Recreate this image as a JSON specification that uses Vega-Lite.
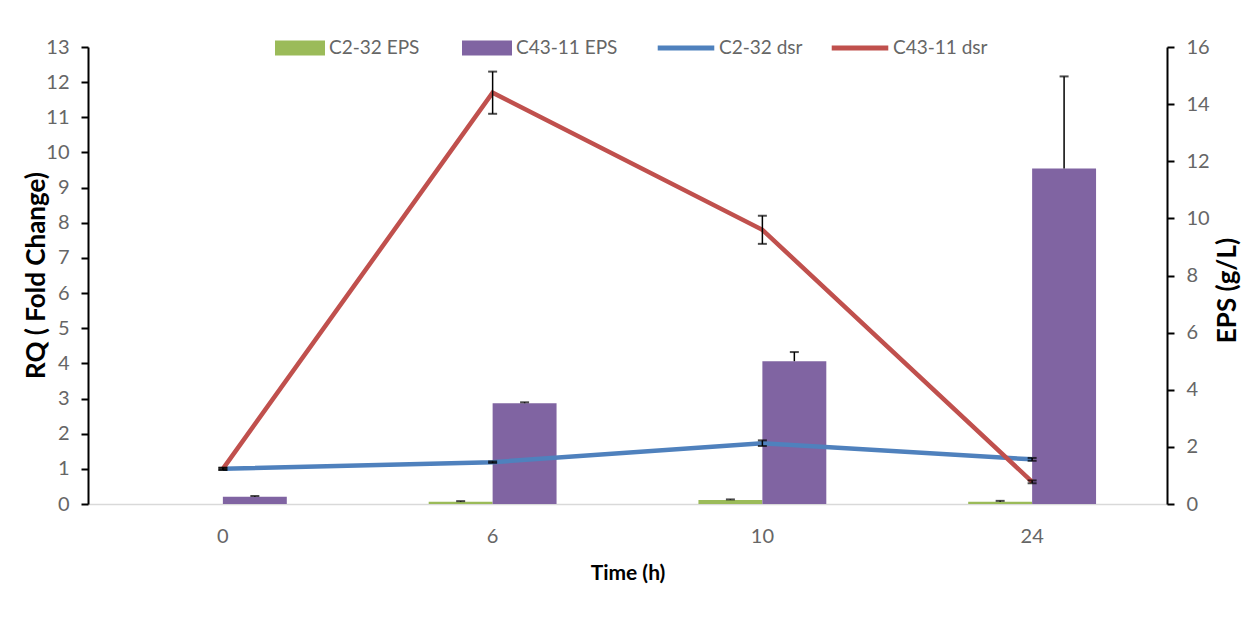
{
  "$schema": "https://vega.github.io/schema/vega-lite/v6.json",
  "width": 1079,
  "height": 457,
  "autosize": {"type": "none"},
  "padding": {"left": 88, "top": 47, "right": 82, "bottom": 123},
  "background": "white",
  "config": {"font": "Lato", "view": {"stroke": null}, "axis": {"grid": false}},
  "datasets": {
    "eps": [
      {"t": 0, "series": "C2-32 EPS", "eps": 0, "hi": null},
      {"t": 0, "series": "C43-11 EPS", "eps": 0.25, "hi": 0.28},
      {"t": 6, "series": "C2-32 EPS", "eps": 0.08, "hi": 0.1},
      {"t": 6, "series": "C43-11 EPS", "eps": 3.53, "hi": 3.56},
      {"t": 10, "series": "C2-32 EPS", "eps": 0.14, "hi": 0.16},
      {"t": 10, "series": "C43-11 EPS", "eps": 5.0, "hi": 5.32},
      {"t": 24, "series": "C2-32 EPS", "eps": 0.08, "hi": 0.11},
      {"t": 24, "series": "C43-11 EPS", "eps": 11.75, "hi": 14.97}
    ],
    "rq": [
      {"t": 0, "series": "C2-32 dsr", "rq": 1.0, "lo": 0.97, "hi": 1.03},
      {"t": 6, "series": "C2-32 dsr", "rq": 1.19, "lo": 1.17, "hi": 1.21},
      {"t": 10, "series": "C2-32 dsr", "rq": 1.73, "lo": 1.65, "hi": 1.81},
      {"t": 24, "series": "C2-32 dsr", "rq": 1.27, "lo": 1.23, "hi": 1.31},
      {"t": 0, "series": "C43-11 dsr", "rq": 1.0, "lo": 0.97, "hi": 1.03},
      {"t": 6, "series": "C43-11 dsr", "rq": 11.7, "lo": 11.1, "hi": 12.3},
      {"t": 10, "series": "C43-11 dsr", "rq": 7.8, "lo": 7.4, "hi": 8.2},
      {"t": 24, "series": "C43-11 dsr", "rq": 0.63, "lo": 0.59, "hi": 0.67}
    ]
  },
  "layer": [
    {
      "data": {"name": "eps"},
      "layer": [
        {
          "mark": {"type": "bar"},
          "encoding": {
            "x": {
              "field": "t", "type": "ordinal",
              "scale": {"paddingInner": 0.526, "paddingOuter": 0.263},
              "axis": {
                "title": "Time (h)", "titleFontSize": 21, "titleFontWeight": "bold", "titleColor": "black",
                "titlePadding": 16, "labelAngle": 0, "labelFontSize": 20, "labelColor": "#666666",
                "labelPadding": 22, "ticks": false, "domainColor": "#D9D9D9", "domainWidth": 1.5
              }
            },
            "xOffset": {"field": "series", "type": "nominal", "scale": {"domain": ["C2-32 EPS", "C43-11 EPS"]}},
            "y": {
              "field": "eps", "type": "quantitative",
              "scale": {"domain": [0, 16], "nice": false},
              "axis": {
                "orient": "right", "title": "EPS (g/L)", "titleFontSize": 26, "titleFontWeight": "bold",
                "titleColor": "black", "titleAngle": 270, "titleX": 60, "titleY": 243,
                "titleAlign": "center", "titleBaseline": "middle",
                "values": [0,1,2,3,4,5,6,7,8,9,10,11,12,13,14,15,16],
                "labelExpr": "datum.value % 2 == 0 ? datum.label : ''", "labelOverlap": false,
                "labelFontSize": 20, "labelColor": "#666666", "labelPadding": 12,
                "domainColor": "black", "domainWidth": 2, "tickColor": "black", "tickWidth": 2, "tickSize": 7
              }
            },
            "fill": {
              "field": "series", "type": "nominal",
              "scale": {"domain": ["C2-32 EPS", "C43-11 EPS"], "range": ["#9BBB59", "#8064A2"]},
              "legend": {
                "orient": "none", "legendX": 187, "legendY": -24, "direction": "horizontal", "title": null,
                "symbolType": "M-1,-0.3L1,-0.3L1,0.3L-1,0.3Z", "symbolSize": 2500, "symbolStrokeWidth": 0,
                "labelFontSize": 19, "labelColor": "#666666", "columnPadding": 42, "labelOffset": 4
              }
            }
          }
        },
        {
          "mark": {"type": "rule", "color": "black", "strokeWidth": 1.5},
          "encoding": {
            "x": {"field": "t", "type": "ordinal"},
            "xOffset": {"field": "series", "type": "nominal"},
            "y": {"field": "eps", "type": "quantitative"},
            "y2": {"field": "hi"}
          }
        },
        {
          "mark": {"type": "tick", "color": "black", "thickness": 2, "size": 9},
          "encoding": {
            "x": {"field": "t", "type": "ordinal"},
            "xOffset": {"field": "series", "type": "nominal"},
            "y": {"field": "hi", "type": "quantitative"}
          }
        }
      ]
    },
    {
      "data": {"name": "rq"},
      "layer": [
        {
          "mark": {"type": "line", "strokeWidth": 4.5},
          "encoding": {
            "x": {"field": "t", "type": "ordinal"},
            "y": {
              "field": "rq", "type": "quantitative",
              "scale": {"domain": [0, 13], "nice": false},
              "axis": {
                "orient": "left", "title": "RQ ( Fold Change)", "titleFontSize": 26, "titleFontWeight": "bold",
                "titleColor": "black", "titleX": -52, "titleY": 228, "titleAlign": "center", "titleBaseline": "middle",
                "values": [0,1,2,3,4,5,6,7,8,9,10,11,12,13], "labelOverlap": false,
                "labelFontSize": 20, "labelColor": "#666666", "labelPadding": 12,
                "domainColor": "black", "domainWidth": 2, "tickColor": "black", "tickWidth": 2, "tickSize": 7
              }
            },
            "stroke": {
              "field": "series", "type": "nominal",
              "scale": {"domain": ["C2-32 dsr", "C43-11 dsr"], "range": ["#4F81BD", "#C0504D"]},
              "legend": {
                "orient": "none", "legendX": 567, "legendY": -30, "direction": "horizontal", "title": null,
                "symbolType": "stroke", "symbolSize": 3200, "symbolStrokeWidth": 5,
                "labelFontSize": 19, "labelColor": "#666666", "columnPadding": 18, "labelOffset": 2
              }
            }
          }
        },
        {
          "mark": {"type": "rule", "color": "black", "strokeWidth": 1.5},
          "encoding": {
            "x": {"field": "t", "type": "ordinal"},
            "y": {
              "field": "lo", "type": "quantitative",
              "axis": {
                "orient": "left", "title": "RQ ( Fold Change)", "titleFontSize": 26, "titleFontWeight": "bold",
                "titleColor": "black", "titleX": -52, "titleY": 228, "titleAlign": "center", "titleBaseline": "middle",
                "values": [0,1,2,3,4,5,6,7,8,9,10,11,12,13], "labelOverlap": false,
                "labelFontSize": 20, "labelColor": "#666666", "labelPadding": 12,
                "domainColor": "black", "domainWidth": 2, "tickColor": "black", "tickWidth": 2, "tickSize": 7
              }
            },
            "y2": {"field": "hi"}
          }
        },
        {
          "mark": {"type": "tick", "color": "black", "thickness": 2, "size": 9},
          "encoding": {
            "x": {"field": "t", "type": "ordinal"},
            "y": {
              "field": "hi", "type": "quantitative",
              "axis": {
                "orient": "left", "title": "RQ ( Fold Change)", "titleFontSize": 26, "titleFontWeight": "bold",
                "titleColor": "black", "titleX": -52, "titleY": 228, "titleAlign": "center", "titleBaseline": "middle",
                "values": [0,1,2,3,4,5,6,7,8,9,10,11,12,13], "labelOverlap": false,
                "labelFontSize": 20, "labelColor": "#666666", "labelPadding": 12,
                "domainColor": "black", "domainWidth": 2, "tickColor": "black", "tickWidth": 2, "tickSize": 7
              }
            }
          }
        },
        {
          "mark": {"type": "tick", "color": "black", "thickness": 2, "size": 9},
          "encoding": {
            "x": {"field": "t", "type": "ordinal"},
            "y": {
              "field": "lo", "type": "quantitative",
              "axis": {
                "orient": "left", "title": "RQ ( Fold Change)", "titleFontSize": 26, "titleFontWeight": "bold",
                "titleColor": "black", "titleX": -52, "titleY": 228, "titleAlign": "center", "titleBaseline": "middle",
                "values": [0,1,2,3,4,5,6,7,8,9,10,11,12,13], "labelOverlap": false,
                "labelFontSize": 20, "labelColor": "#666666", "labelPadding": 12,
                "domainColor": "black", "domainWidth": 2, "tickColor": "black", "tickWidth": 2, "tickSize": 7
              }
            }
          }
        }
      ]
    }
  ],
  "resolve": {"scale": {"y": "independent"}}
}
